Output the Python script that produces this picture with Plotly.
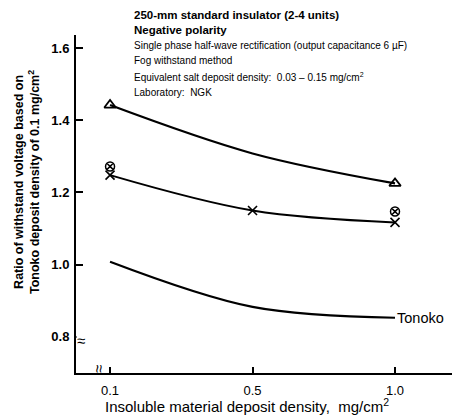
import plotly.graph_objects as go

# Data
x_cats = ["0.1", "0.5", "1.0"]
triangle_line = [1.442, 1.308, 1.225]
triangle_pts_x = ["0.1", "1.0"]
triangle_pts = [1.442, 1.225]
cross_vals = [1.248, 1.150, 1.117]
circx_x = ["0.1", "1.0"]
circx_vals = [1.272, 1.147]
tonoko_vals = [1.008, 0.883, 0.853]
y_ticks = [0.8, 1.0, 1.2, 1.4, 1.6]

info_lines = [
    "<b>250-mm standard insulator (2-4 units)</b>",
    "<b>Negative polarity</b>",
    "Single phase half-wave rectification (output capacitance 6 \u00b5F)",
    "Fog withstand method",
    "Equivalent salt deposit density:  0.03 \u2013 0.15 mg/cm<sup>2</sup>",
    "Laboratory:  NGK",
]
info_sizes = [11.5, 11.5, 10, 10, 10, 10]

FONT = "Liberation Sans, Arial, sans-serif"
L, R, T, B = 76, 11, 35, 42
W, H = 463, 415
ph = H - T - B
pw = W - L - R
XR = [-0.239, 2.40]
YR = [0.70, 1.636]


def px(xp):
    return (xp - L) / pw


def py(yp):
    return (H - B - yp) / ph


fig = go.Figure()
fig.add_trace(go.Scatter(x=x_cats, y=triangle_line, mode="lines",
                         line=dict(color="black", width=2.2, shape="spline"), showlegend=False))
fig.add_trace(go.Scatter(x=triangle_pts_x, y=triangle_pts, mode="markers",
                         marker=dict(symbol="triangle-up-open", size=10, color="black",
                                     line=dict(width=1.8)), showlegend=False))
fig.add_trace(go.Scatter(x=x_cats, y=cross_vals, mode="lines+markers",
                         line=dict(color="black", width=2, shape="spline"),
                         marker=dict(symbol="x-thin-open", size=9, color="black",
                                     line=dict(width=1.6, color="black")), showlegend=False))
fig.add_trace(go.Scatter(x=circx_x, y=circx_vals, mode="markers",
                         marker=dict(symbol="circle-x-open", size=9, color="black",
                                     line=dict(width=1.5)), showlegend=False))
fig.add_trace(go.Scatter(x=x_cats, y=tonoko_vals, mode="lines",
                         line=dict(color="black", width=2.2, shape="spline"), showlegend=False))

fig.add_annotation(x=len(x_cats) - 1, y=tonoko_vals[-1], text="Tonoko", showarrow=False,
                   xanchor="left", xshift=0, font=dict(size=14.5, color="black", family=FONT))

ys = [15, 30, 45.5, 61, 76.5, 92]
for txt, yp, fs in zip(info_lines, ys, info_sizes):
    fig.add_annotation(xref="paper", yref="paper", x=px(132), y=py(yp), text=txt,
                       showarrow=False, xanchor="left", yanchor="middle",
                       font=dict(size=fs, color="black", family=FONT))

# axis titles
fig.add_annotation(xref="paper", yref="paper", x=px(27), y=py(182),
                   text="<b>Ratio of withstand voltage based on<br>Tonoko deposit density of 0.1 mg/cm<sup>2</sup></b>",
                   showarrow=False, textangle=-90, xanchor="center", yanchor="middle",
                   font=dict(size=12.5, color="black", family=FONT))
fig.add_annotation(xref="paper", yref="paper", x=px(247), y=py(405),
                   text="Insoluble material deposit density,  mg/cm<sup>2</sup>",
                   showarrow=False, xanchor="center", yanchor="middle",
                   font=dict(size=15, color="black", family=FONT))

# axis breaks
fig.add_annotation(xref="paper", yref="paper", x=0, y=py(350), text="\u2248",
                   showarrow=False, font=dict(size=15, color="black"), bgcolor="white",
                   borderpad=0)
fig.add_annotation(xref="paper", yref="paper", x=px(90), y=0, text="\u2248",
                   showarrow=False, font=dict(size=15, color="black"), bgcolor="white",
                   textangle=90, borderpad=0)

fig.update_layout(
    width=W, height=H,
    margin=dict(l=L, r=R, t=T, b=B),
    paper_bgcolor="white", plot_bgcolor="white",
    font=dict(family=FONT, color="black"),
    showlegend=False,
    xaxis=dict(type="category", categoryorder="array", categoryarray=x_cats,
               range=XR, showline=True, linecolor="black", linewidth=2,
               ticks="inside", ticklen=6, tickcolor="black", tickwidth=1.5,
               ticklabelstandoff=4,
               showgrid=False, zeroline=False, tickfont=dict(size=13)),
    yaxis=dict(range=YR, tickvals=y_ticks,
               ticktext=["<b>%.1f</b>" % v for v in y_ticks],
               showline=True, linecolor="black", linewidth=2,
               ticks="inside", ticklen=7, tickcolor="black", tickwidth=1.5,
               ticklabelstandoff=2,
               showgrid=False, zeroline=False, tickfont=dict(size=13)),
)

fig.write_html("out.html")
